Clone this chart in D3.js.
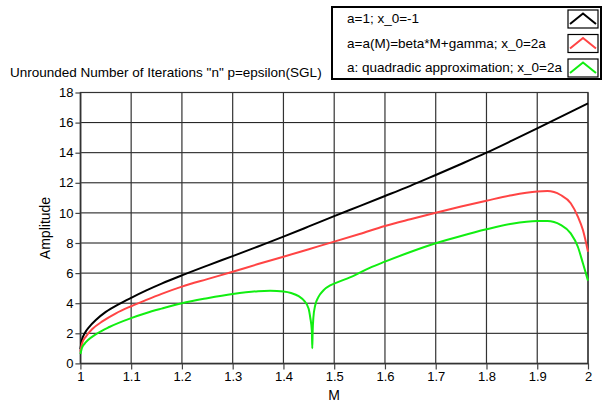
<!DOCTYPE html>
<html>
<head>
<meta charset="utf-8">
<script src="https://cdn.jsdelivr.net/npm/d3@7"></script>
<style>
  body { margin: 0; background: #fff; }
  svg { display: block; font-family: Arial, "Liberation Sans", sans-serif; }
  .tick text { font-size: 13px; fill: #000; }
</style>
</head>
<body>
<svg id="chart" width="604" height="403"></svg>
<script>
// Axis ticks
const xTicks = [1, 1.1, 1.2, 1.3, 1.4, 1.5, 1.6, 1.7, 1.8, 1.9, 2];
const yTicks = [0, 2, 4, 6, 8, 10, 12, 14, 16, 18];

// Series labels and colours
const seriesNames = [
  "a=1; x_0=-1",
  "a=a(M)=beta*M+gamma; x_0=2a",
  "a: quadradic approximation; x_0=2a"
];
const seriesColors = ["#000000", "#ff4444", "#11ee11"];

// a=1; x_0=-1
const blackM = [1, 1.003, 1.008, 1.018, 1.031, 1.05, 1.077, 1.1, 1.13, 1.16, 1.2, 1.25, 1.3, 1.35,
  1.4, 1.45, 1.5, 1.55, 1.6, 1.65, 1.7, 1.75, 1.8, 1.85, 1.9, 1.95, 2];
const blackN = [0.95, 1.55, 1.97, 2.45, 2.9, 3.42, 3.96, 4.36, 4.85, 5.3, 5.85, 6.5, 7.13, 7.77,
  8.42, 9.1, 9.79, 10.45, 11.12, 11.8, 12.52, 13.25, 14.0, 14.8, 15.62, 16.45, 17.28];

// a=a(M)=beta*M+gamma; x_0=2a
const redM = [1, 1.003, 1.011, 1.024, 1.044, 1.07, 1.1, 1.13, 1.16, 1.2, 1.25, 1.3, 1.35, 1.4,
  1.45, 1.5, 1.55, 1.6, 1.65, 1.7, 1.75, 1.8, 1.85, 1.9, 1.92, 1.946, 1.966, 1.98, 1.99, 2];
const redN = [0.78, 1.3, 1.79, 2.3, 2.81, 3.33, 3.8, 4.22, 4.62, 5.1, 5.6, 6.09, 6.6, 7.09,
  7.59, 8.09, 8.6, 9.13, 9.58, 10.01, 10.42, 10.81, 11.18, 11.42, 11.45, 11.19, 10.64, 9.75, 8.86, 7.42];

// a: quadradic approximation; x_0=2a
const greenM = [1, 1.003, 1.008, 1.015, 1.031, 1.057, 1.1, 1.13, 1.16, 1.2, 1.25, 1.3, 1.35, 1.374,
  1.4, 1.415, 1.43, 1.441, 1.4495, 1.4528, 1.456, 1.4568, 1.4576, 1.459, 1.4625, 1.469, 1.479, 1.492,
  1.5, 1.54, 1.57, 1.6, 1.65, 1.7, 1.75, 1.8, 1.85, 1.9, 1.92, 1.946, 1.966, 1.98, 1.99, 2];
const greenN = [0.62, 1.02, 1.3, 1.55, 1.95, 2.42, 3.01, 3.35, 3.64, 4.0, 4.33, 4.61, 4.8, 4.83,
  4.78, 4.68, 4.47, 4.15, 3.65, 3.05, 2.15, 1.0, 2.15, 3.05, 3.85, 4.42, 4.86, 5.18,
  5.3, 5.85, 6.35, 6.76, 7.4, 7.98, 8.47, 8.91, 9.28, 9.46, 9.46, 9.2, 8.64, 7.75, 6.65, 5.5];

const svg = d3.select("#chart");
const x = d3.scaleLinear().domain([1, 2]).range([80.4, 588]);
const y = d3.scaleLinear().domain([0, 18]).range([363.4, 92.5]);
const [x0, x1] = x.range();
const [yB, yT] = y.range();

// plot background
svg.append("rect").attr("x", x0).attr("y", yT).attr("width", x1 - x0).attr("height", yB - yT)
  .attr("fill", "#fff");

// grid
const grid = svg.append("g");
grid.selectAll("line.h").data(yTicks).join("line").attr("class", "h")
  .attr("x1", x0).attr("x2", x1).attr("y1", d => y(d)).attr("y2", d => y(d))
  .attr("stroke", "#111").attr("stroke-width", 1);
grid.selectAll("line.v").data(xTicks).join("line").attr("class", "v")
  .attr("y1", yT).attr("y2", yB).attr("x1", d => x(d)).attr("x2", d => x(d))
  .attr("stroke", "#333").attr("stroke-width", 1.2);

// axes
const yAxis = svg.append("g").attr("transform", `translate(${x0},0)`)
  .call(d3.axisLeft(y).tickValues(yTicks).tickSize(5).tickSizeOuter(0).tickPadding(2)
    .tickFormat(d3.format("d")));
const xAxis = svg.append("g").attr("transform", `translate(0,${yB})`)
  .call(d3.axisBottom(x).tickValues(xTicks).tickSize(6).tickSizeOuter(0).tickPadding(2)
    .tickFormat(d => d3.format("")(d)));
[yAxis, xAxis].forEach(g => {
  g.selectAll("path.domain").attr("stroke", "#444").attr("stroke-width", 1.2);
  g.selectAll(".tick line").attr("stroke", "#444").attr("stroke-width", 1.2);
});

// plot frame
svg.append("rect").attr("x", x0).attr("y", yT).attr("width", x1 - x0).attr("height", yB - yT)
  .attr("fill", "none").attr("stroke", "#333").attr("stroke-width", 1.2);

// curves
const line = d3.line().x(d => x(d[0])).y(d => y(d[1])).curve(d3.curveMonotoneX);
const series = [
  d3.zip(blackM, blackN),
  d3.zip(redM, redN),
  d3.zip(greenM, greenN)
];
svg.append("g").selectAll("path").data(series).join("path")
  .attr("d", line).attr("fill", "none")
  .attr("stroke", (d, i) => seriesColors[i]).attr("stroke-width", 2)
  .attr("stroke-linejoin", "round");

// titles
svg.append("text").attr("x", 10).attr("y", 77).attr("font-size", 13.5)
  .text('Unrounded Number of Iterations "n" p=epsilon(SGL)');
svg.append("text").attr("transform", "translate(50,228) rotate(-90)")
  .attr("text-anchor", "middle").attr("font-size", 14).text("Amplitude");
svg.append("text").attr("x", (x0 + x1) / 2).attr("y", 400)
  .attr("text-anchor", "middle").attr("font-size", 14).text("M");

// legend
const legend = svg.append("g");
legend.append("rect").attr("x", 332).attr("y", 7).attr("width", 269).attr("height", 72)
  .attr("fill", "#fff").attr("stroke", "#000").attr("stroke-width", 2);
const rows = legend.selectAll("g.row").data(seriesNames).join("g").attr("class", "row")
  .attr("transform", (d, i) => `translate(0,${i * 24.5})`);
rows.append("text").attr("x", 347).attr("y", 23).attr("font-size", 13.5).text(d => d);
rows.append("rect").attr("x", 568).attr("y", 10).attr("width", 30).attr("height", 18)
  .attr("fill", "#fff").attr("stroke", "#000").attr("stroke-width", 1.2);
rows.append("polyline")
  .attr("points", "570,24 583,13.5 596,24")
  .attr("fill", "none").attr("stroke", (d, i) => seriesColors[i]).attr("stroke-width", 2);
</script>
</body>
</html>
